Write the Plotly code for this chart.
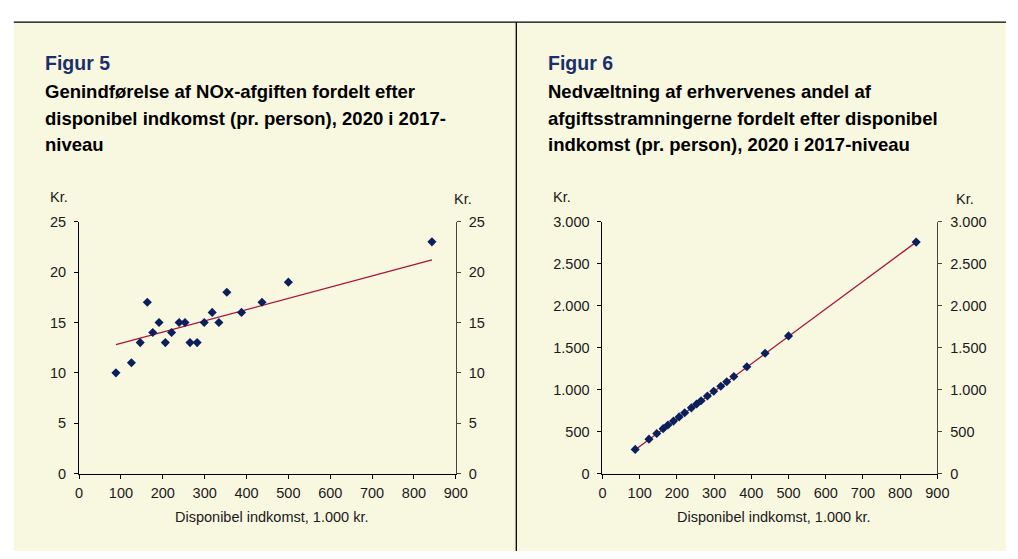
import plotly.graph_objects as go

# Disposable income per person (1.000 kr.) for each income group
income = [88, 125, 146, 163, 176, 191, 206, 221, 239, 253,
          265, 282, 299, 318, 334, 353, 388, 437, 500, 843]

# Figur 5: NOx tax burden per person (kr.)
nox_kr = [10, 11, 13, 17, 14, 15, 13, 14, 15, 15,
          13, 13, 15, 16, 15, 18, 16, 17, 19, 23]
nox_trend_x = [88, 843]
nox_trend_y = [12.8, 21.2]

# Figur 6: pass-through of business share of tax tightening (kr.)
pass_kr = [288, 410, 478, 535, 578, 625, 675, 724, 783, 828,
           868, 924, 980, 1040, 1093, 1157, 1272, 1434, 1640, 2757]
pass_trend_x = [88, 843]
pass_trend_y = [285, 2757]

fig_titles = ["Figur 5", "Figur 6"]
sub_left = ["Genindførelse af NOx-afgiften fordelt efter",
            "disponibel indkomst (pr. person), 2020 i 2017-",
            "niveau"]
sub_right = ["Nedvæltning af erhvervenes andel af",
             "afgiftsstramningerne fordelt efter disponibel",
             "indkomst (pr. person), 2020 i 2017-niveau"]
x_title = "Disponibel indkomst, 1.000 kr."
unit = "Kr."

W, H = 1018, 559
BG = "#F8F7E0"
NAVY = "#1B2F6B"
MARK = "#0B1F5C"
TREND = "#A8123E"
FONT = "Liberation Sans, Arial, sans-serif"
TXT = "#1a1a1a"


def px(x):
    """pixel x -> paper fraction"""
    return x / W


def py(y):
    """pixel y (from top) -> paper fraction"""
    return 1 - y / H


fig = go.Figure()

# trend lines sit on the left-hand value axes, markers on the mirrored
# right-hand axes (same range), so both axes of each panel are drawn
fig.add_trace(go.Scatter(x=nox_trend_x, y=nox_trend_y, mode="lines",
                         line=dict(color=TREND, width=1.3),
                         xaxis="x", yaxis="y", hoverinfo="skip"))
fig.add_trace(go.Scatter(x=income, y=nox_kr, mode="markers",
                         marker=dict(symbol="diamond", size=7, color=MARK),
                         xaxis="x", yaxis="y2"))
fig.add_trace(go.Scatter(x=pass_trend_x, y=pass_trend_y, mode="lines",
                         line=dict(color=TREND, width=1.3),
                         xaxis="x2", yaxis="y3", hoverinfo="skip"))
fig.add_trace(go.Scatter(x=income, y=pass_kr, mode="markers",
                         marker=dict(symbol="diamond", size=7, color=MARK),
                         xaxis="x2", yaxis="y4"))

tickfont = dict(family=FONT, size=14.5, color=TXT)
common = dict(showgrid=False, zeroline=False, showline=True, ticks="outside",
              ticklen=4, tickwidth=1, tickfont=tickfont, fixedrange=True)

ydom = [py(479.3), py(220)]
xdom_l = [px(76.3), px(459)]
xdom_r = [px(608), px(948.3)]

fig.update_layout(
    width=W, height=H,
    margin=dict(l=0, r=0, t=0, b=0),
    paper_bgcolor="white", plot_bgcolor="rgba(0,0,0,0)",
    showlegend=False,
    separators=",.",
    xaxis=dict(domain=xdom_l, range=[0, 900], dtick=100, anchor="y",
               linecolor="black", tickcolor="black", ticklabelstandoff=2,
               **common),
    yaxis=dict(domain=ydom, range=[0, 25], dtick=5, anchor="x",
               linecolor="black", tickcolor="black", ticklabelstandoff=5,
               **common),
    yaxis2=dict(range=[0, 25], dtick=5, overlaying="y", side="right",
                anchor="x", linecolor="#444", tickcolor="#444",
                ticklabelstandoff=5, **common),
    xaxis2=dict(domain=xdom_r, range=[0, 900], dtick=100, anchor="y3",
                linecolor="black", tickcolor="black", ticklabelstandoff=2,
                **common),
    yaxis3=dict(domain=ydom, range=[0, 3000], dtick=500, anchor="x2",
                tickformat=",d", linecolor="black", tickcolor="black",
                ticklabelstandoff=5, **common),
    yaxis4=dict(range=[0, 3000], dtick=500, overlaying="y3", side="right",
                anchor="x2", tickformat=",d", linecolor="#444",
                tickcolor="#444", ticklabelstandoff=5, **common),
)

shapes = [
    dict(type="rect", xref="paper", yref="paper", x0=px(10), x1=1,
         y0=0, y1=py(14.5), fillcolor=BG, line=dict(width=0), layer="below"),
    dict(type="line", xref="paper", yref="paper", x0=px(10), x1=1,
         y0=py(14.5), y1=py(14.5), line=dict(color="black", width=1.3)),
    dict(type="line", xref="paper", yref="paper", x0=px(520.5), x1=px(520.5),
         y0=0, y1=py(14.5), line=dict(color="black", width=1.3)),
]
fig.update_layout(shapes=shapes)

ann = []


def text(x, y, s, size, color=TXT, bold=False, anchor="left"):
    ann.append(dict(xref="paper", yref="paper", x=px(x), y=py(y),
                    text=f"<b>{s}</b>" if bold else s, showarrow=False,
                    xanchor=anchor, yanchor="middle",
                    font=dict(family=FONT, size=size, color=color)))


line_y = [85.8, 113.5, 140.2]
for x0, title, subs in [(40.7, fig_titles[0], sub_left),
                        (551.7, fig_titles[1], sub_right)]:
    text(x0 - 1, 56.8, title, 19.5, NAVY, bold=True)
    for yy, s in zip(line_y, subs):
        text(x0 - 1, yy, s, 18.5, "black", bold=True)

text(45.7 - 1, 194.5, unit, 14.5)
text(455.7 - 1, 197, unit, 14.5)
text(556.7 - 1, 194.5, unit, 14.5)
text(965.7 - 1, 197, unit, 14.5)
text(271.5, 524, x_title, 14.5, anchor="center")
text(781.7, 524, x_title, 14.5, anchor="center")

fig.update_layout(annotations=ann)

fig.write_html("out.html")
